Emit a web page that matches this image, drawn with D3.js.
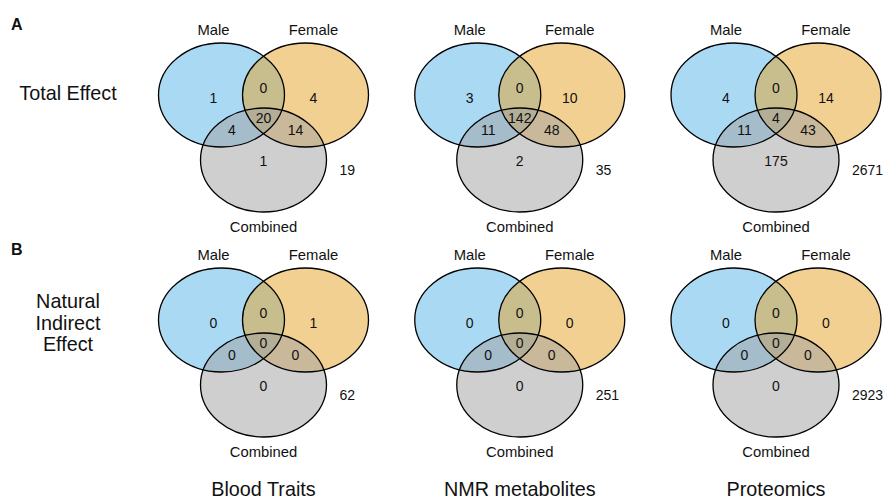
<!DOCTYPE html>
<html><head><meta charset="utf-8">
<script src="https://cdn.jsdelivr.net/npm/d3@7"></script>
<style>body{margin:0;background:#fff}svg{display:block}text{font-family:"Liberation Sans",Arial,Helvetica,sans-serif;fill:#111}</style>
</head><body><svg id="c" width="884" height="500"></svg>
<script>
const datasets = ["Blood Traits", "NMR metabolites", "Proteomics"];
const effects = ["Total Effect", "Natural Indirect Effect"];
const effectLines = [["Total Effect"], ["Natural", "Indirect", "Effect"]];
const panelLetters = ["A", "B"];
const sets = ["Male", "Female", "Combined"];
const regions = ["M", "MF", "F", "MFC", "MC", "FC", "C", "none"];
// counts per region, in order of `regions`
const totalBlood = [1, 0, 4, 20, 4, 14, 1, 19];
const totalNMR = [3, 0, 10, 142, 11, 48, 2, 35];
const totalProt = [4, 0, 14, 4, 11, 43, 175, 2671];
const nieBlood = [0, 0, 1, 0, 0, 0, 0, 62];
const nieNMR = [0, 0, 0, 0, 0, 0, 0, 251];
const nieProt = [0, 0, 0, 0, 0, 0, 0, 2923];
const counts = [[totalBlood, totalNMR, totalProt], [nieBlood, nieNMR, nieProt]];

const svg = d3.select("#c");
const x = d3.scalePoint().domain(datasets).range([263.5, 776]);
const y = d3.scalePoint().domain(effects).range([95, 320]);

// layout offsets (relative to panel centre x, top-ellipse centre y)
const ellipses = [
  {set: "Male", dx: -42, dy: 0, fill: "#56B4E9"},
  {set: "Female", dx: 42, dy: 0, fill: "#E5A126"},
  {set: "Combined", dx: 0, dy: 65, fill: "#a0a0a0"}
];
const rx = 63, ry = 52;
const regionPos = {M: [-50, 3], MF: [0, -7], F: [50, 3], MFC: [0, 23], MC: [-31.5, 35], FC: [32, 35], C: [0, 66], none: [76, 75]};
const setLabelPos = {Male: [-50, -65], Female: [50, -65], Combined: [0, 132]};
const titleDy = [-2, 3];

effects.forEach((eff, ri) => {
  datasets.forEach((ds, ci) => {
    const g = svg.append("g").attr("transform", `translate(${x(ds)},${y(eff)})`);
    g.selectAll("ellipse.fill").data(ellipses).join("ellipse")
      .attr("cx", d => d.dx).attr("cy", d => d.dy).attr("rx", rx).attr("ry", ry)
      .attr("fill", d => d.fill).attr("fill-opacity", 0.5).attr("stroke", "none");
    g.selectAll("ellipse.line").data(ellipses).join("ellipse")
      .attr("cx", d => d.dx).attr("cy", d => d.dy).attr("rx", rx).attr("ry", ry)
      .attr("fill", "none").attr("stroke", "#000").attr("stroke-width", 1.3);
    const vals = counts[ri][ci];
    g.selectAll("text.num").data(regions).join("text")
      .attr("x", d => regionPos[d][0]).attr("y", d => regionPos[d][1])
      .attr("dy", "0.35em")
      .attr("text-anchor", d => d === "none" ? "start" : "middle")
      .attr("font-size", 14)
      .text((d, i) => vals[i]);
    g.selectAll("text.set").data(sets).join("text")
      .attr("x", d => setLabelPos[d][0]).attr("y", d => setLabelPos[d][1])
      .attr("dy", "0.35em").attr("text-anchor", "middle").attr("font-size", 14.8)
      .text(d => d);
  });
  // row letter
  svg.append("text").attr("x", 11).attr("y", y(eff) - 71).attr("dy", "0.35em")
    .attr("font-size", 16).attr("font-weight", "bold").text(panelLetters[ri]);
  // row title
  const lines = effectLines[ri];
  const t = svg.append("text").attr("text-anchor", "middle").attr("font-size", 19.8);
  lines.forEach((ln, k) => {
    t.append("tspan").attr("x", 68)
      .attr("y", y(eff) + titleDy[ri] + (k - (lines.length - 1) / 2) * 21.5)
      .attr("dy", "0.35em").text(ln);
  });
});

svg.selectAll("text.col").data(datasets).join("text")
  .attr("x", d => x(d)).attr("y", 489).attr("dy", "0.35em")
  .attr("text-anchor", "middle").attr("font-size", 19.8).text(d => d);
</script></body></html>
